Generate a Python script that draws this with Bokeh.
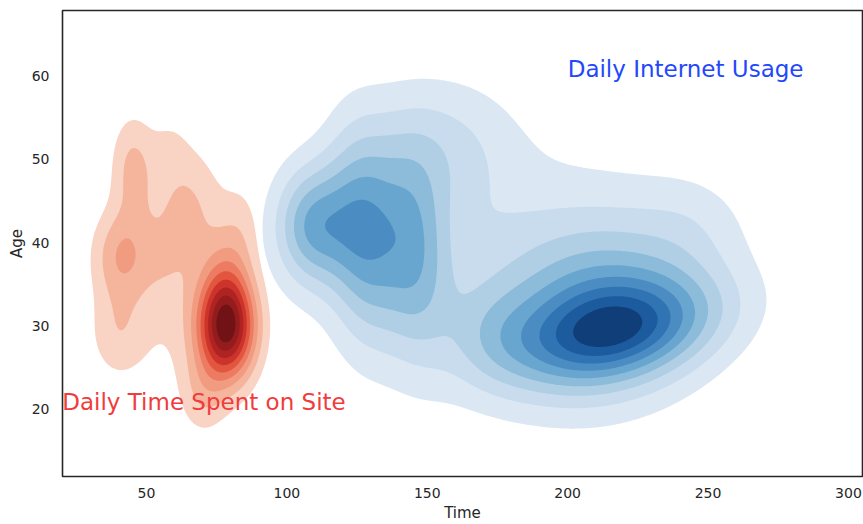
import numpy as np
from bokeh.plotting import figure
from bokeh.models import Range1d
from bokeh.core.properties import value
from bokeh.embed import file_html
from bokeh.resources import INLINE

# ---- density components (centre, spread, tilt, height) ----
# Daily Time Spent on Site vs Age (red)
red_cx   = [78.5, 78.5, 41.3, 40.0, 45.0, 64.0, 70.0, 58.0, 84.0, 56.0, 60.0]
red_cy   = [29.6, 33.0, 38.4, 29.0, 49.0, 44.0, 21.5, 52.0, 42.0, 37.0, 30.0]
red_sx   = [7.5,  6.5,  7.5,  7.5,  5.5,  9.0,  6.0,  5.0,  5.0,  6.0,  10.0]
red_sy   = [4.4,  5.5,  4.0,  4.0,  4.5,  5.5,  3.5,  3.0,  4.0,  4.0,  6.0]
red_tilt = [0.0,  0.0,  0.0,  0.0,  0.0,  0.0,  0.0,  0.0,  0.0,  0.0,  0.0]
red_amp  = [0.75, 0.30, 0.295, 0.17, 0.22, 0.22, 0.15, 0.06, 0.10, 0.07, 0.08]

# Daily Internet Usage vs Age (blue)
blue_cx   = [217.0, 212.0, 172.0, 109.0, 127.0, 145.0, 175.0, 155.0, 245.0]
blue_cy   = [29.3,  32.0,  29.0,  42.0,  41.3,  39.0,  38.0,  51.5,  42.0]
blue_sx   = [25.0,  26.0,  12.0,  9.4,   9.0,   9.0,   45.0,  18.0,  14.0]
blue_sy   = [4.0,   7.5,   4.5,   5.0,   8.5,   8.5,   11.0,  6.0,   4.5]
blue_tilt = [0.06,  0.03,  0.0,   0.0,   -0.1,  -0.1,  0.0,   0.0,   0.0]
blue_amp  = [0.50,  0.40,  0.12,  0.42,  0.42,  0.34,  0.13,  0.17,  0.07]

level_fracs = [0.1, 0.2, 0.3, 0.4, 0.5, 0.6, 0.7, 0.8, 0.9]
red_colors  = ["#f9d3c3", "#f4b59c", "#f19b80", "#ec7b62", "#e2553f",
               "#cc342b", "#b02323", "#951c1c", "#701216"]
blue_colors = ["#dbe8f4", "#c9dcee", "#b0cfe4", "#8cbcd9", "#69a6cf",
               "#4b8dc2", "#3174b3", "#1c5b9e", "#0f3e78"]

x_ticks = [50, 100, 150, 200, 250, 300]
y_ticks = [20, 30, 40, 50, 60]
labels = ["Daily Time Spent on Site", "Daily Internet Usage"]
label_x = [20, 200]
label_y = [20, 60]

gx = np.linspace(20, 306, 440)
gy = np.linspace(11, 69, 320)
GX, GY = np.meshgrid(gx, gy)


def density(cx, cy, sx, sy, tilt, amp):
    z = np.zeros_like(GX)
    for a, b, c, d, t, h in zip(cx, cy, sx, sy, tilt, amp):
        dx = (GX - a) / c
        dy = ((GY - b) - t * (GX - a)) / d
        z += h * np.exp(-0.5 * (dx * dx + dy * dy))
    return z / z.max()


z_red = density(red_cx, red_cy, red_sx, red_sy, red_tilt, red_amp)
z_blue = density(blue_cx, blue_cy, blue_sx, blue_sy, blue_tilt, blue_amp)

FONT = value("DejaVu Sans")

p = figure(width=863, height=524, output_backend="svg", toolbar_location=None,
           x_range=Range1d(20.09, 305.0), y_range=Range1d(11.83, 67.93),
           min_border_left=62, min_border_right=1, min_border_top=10,
           min_border_bottom=47)
p.background_fill_color = "white"
p.border_fill_color = "white"
p.grid.visible = False
p.outline_line_color = "#262626"
p.outline_line_width = 1.6

for z, cols in ((z_red, red_colors), (z_blue, blue_colors)):
    for lv, col in zip(level_fracs, cols):
        p.contour(gx, gy, z, [lv, 2.0], fill_color=[col], line_color=None)

p.text(x=label_x[:1], y=label_y[:1], text=labels[:1], text_color="#f03c3c",
       text_font=FONT, text_font_size="23px", text_baseline="alphabetic",
       y_offset=-7)
p.text(x=label_x[1:], y=label_y[1:], text=labels[1:], text_color="#2348fb",
       text_font=FONT, text_font_size="23px", text_baseline="alphabetic",
       y_offset=-7)

for ax in (p.xaxis, p.yaxis):
    ax.axis_line_color = None
    ax.major_tick_line_color = None
    ax.minor_tick_line_color = None
    ax.major_label_text_font = "DejaVu Sans"
    ax.major_label_text_font_size = "14px"
    ax.major_label_text_color = "#262626"
    ax.axis_label_text_font = "DejaVu Sans"
    ax.axis_label_text_font_size = "15px"
    ax.axis_label_text_font_style = "normal"
    ax.axis_label_text_color = "#262626"

p.xaxis.ticker = x_ticks
p.yaxis.ticker = y_ticks
p.xaxis.axis_label = "Time"
p.yaxis.axis_label = "Age"
p.xaxis.major_label_standoff = 5
p.xaxis.axis_label_standoff = 3
p.yaxis.major_label_standoff = 7
p.yaxis.axis_label_standoff = 3

open("out.html", "w").write(file_html(p, INLINE))
